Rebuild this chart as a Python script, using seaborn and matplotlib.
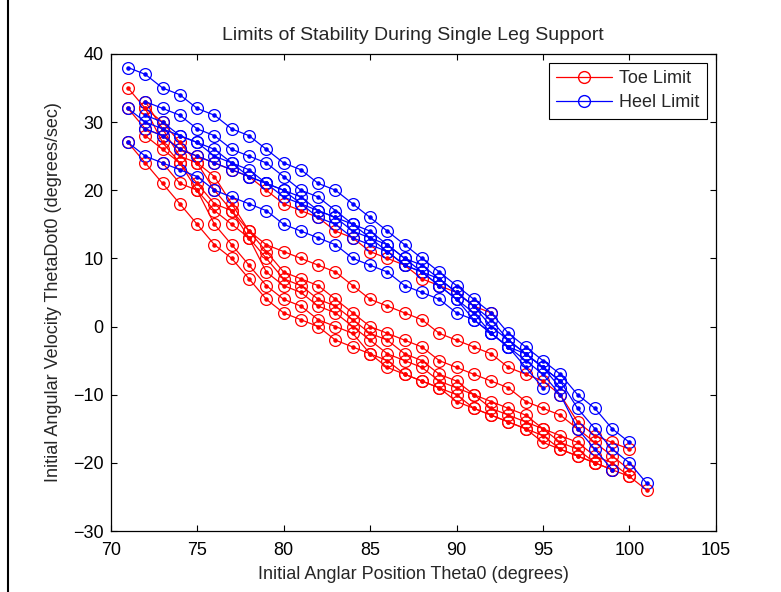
import matplotlib.pyplot as plt
import seaborn as sns
import numpy as np
import pandas as pd
from matplotlib.lines import Line2D

# Toe limit curves (red): first x and the y value at each whole degree
toe_start = [71, 72, 72, 72, 73, 71, 71]
toe_f0 = [35, 32, 30, 27, 24, 22, 18, 14, 12, 11, 10, 9, 8, 6, 4, 3, 2, 1, -1, -2,
          -3, -4, -6, -7, -8, -10, -14, -16, -17, -18]
toe_f1 = [33, 29, 25, 24, 20, 17, 14, 11, 8, 7, 6, 4, 2, 0, -1, -2, -3, -5, -6, -7,
          -8, -9, -11, -12, -13, -15, -17, -19, -21]
toe_f2 = [32, 27, 24, 21, 18, 17, 13, 10, 7, 6, 4, 3, 1, -1, -2, -4, -5, -7, -8, -10,
          -11, -12, -13, -15, -16, -17, -19, -20, -22]
toe_f3 = [28, 26, 24, 20, 17, 15, 13, 8, 6, 5, 3, 2, 0, -2, -4, -5, -6, -8, -9, -10,
          -12, -13, -14, -15, -17, -18, -20, -21]
toe_f4 = [24, 21, 20, 15, 12, 9, 6, 4, 3, 1, 0, -1, -4, -5, -7, -8, -9, -10, -12,
          -13, -14, -15, -16, -18, -19, -20, -21, -22, -24]
toe_f5 = [27, 24, 21, 18, 15, 12, 10, 7, 4, 2, 1, 0, -2, -3, -4, -6, -7, -8, -9, -11,
          -12, -13, -14, -15, -17, -18, -19, -20]
toe_r1 = [32, 29, 28, 26, 25, 24, 23, 22, 20, 18, 17, 16, 14, 13, 11, 10, 9, 7, 6, 5, 3, 2]
toe_lines = [toe_f0, toe_f1, toe_f2, toe_f3, toe_f4, toe_f5, toe_r1]

# Heel limit curves (blue)
heel_start = [71, 72, 71, 72, 71, 72]
heel_b1 = [38, 37, 35, 34, 32, 31, 29, 28, 26, 24, 23, 21, 20, 18, 16, 14, 12, 10, 8, 6,
           4, 2, -1, -3, -5, -7, -10, -12, -15, -17]
heel_b2 = [33, 32, 31, 29, 28, 26, 25, 24, 22, 20, 19, 17, 15, 14, 12, 10, 9, 7, 5, 3,
           1, -2, -4, -6, -8, -12, -15, -18, -20, -23]
heel_b3 = [32, 30, 29, 28, 27, 25, 24, 22, 21, 20, 18, 17, 16, 15, 13, 11, 9, 8, 6, 4,
           1, -1, -3, -5, -7, -10, -15, -18, -21]
heel_b4 = [31, 30, 28, 27, 26, 24, 23, 21, 20, 19, 17, 16, 14, 13, 12, 10, 8, 7, 5, 3,
           0, -2, -4, -6, -8]
heel_b5 = [27, 25, 24, 23, 22, 20, 19, 18, 17, 15, 14, 13, 12, 10, 9, 8, 6, 5, 4, 2,
           1, -1, -3, -4, -6, -9]
heel_b6 = [29, 28, 26, 25, 24, 23, 22, 21, 19, 18, 16, 15, 13, 12, 11, 9, 8, 6, 4, 2,
           -1, -3, -6, -9]
heel_lines = [heel_b1, heel_b2, heel_b3, heel_b4, heel_b5, heel_b6]

x_ticks = [70, 75, 80, 85, 90, 95, 100, 105]
y_ticks = [-30, -20, -10, 0, 10, 20, 30, 40]

rows = []
for i, (s, ys) in enumerate(zip(toe_start, toe_lines)):
    for k, y in enumerate(ys):
        rows.append(("Toe Limit", f"toe{i}", s + k, y))
for i, (s, ys) in enumerate(zip(heel_start, heel_lines)):
    for k, y in enumerate(ys):
        rows.append(("Heel Limit", f"heel{i}", s + k, y))
df = pd.DataFrame(rows, columns=["limit", "line", "theta", "thetadot"])

colors = {"Toe Limit": "#ff0000", "Heel Limit": "#0000ff"}

sns.set_style("ticks")
plt.rcParams["font.family"] = ["Liberation Sans", "DejaVu Sans"]

fig = plt.figure(figsize=(7.81, 5.92), dpi=100)
ax = fig.add_axes([0.1417, 0.103, 0.775, 0.806])

for name in ["Toe Limit", "Heel Limit"]:
    c = colors[name]
    sub = df[df["limit"] == name]
    for line_id, g in sub.groupby("line", sort=False):
        sns.lineplot(data=g, x="theta", y="thetadot", ax=ax, color=c, lw=0.9,
                     marker="o", markersize=8.5, markerfacecolor="none",
                     markeredgecolor=c, markeredgewidth=0.9,
                     estimator=None, sort=False, legend=False)
        ax.plot(g["theta"], g["thetadot"], ".", color=c, markersize=4.5, zorder=3)

ax.set_xlim(70, 105)
ax.set_ylim(-30, 40)
ax.set_xticks(x_ticks)
ax.set_yticks(y_ticks)
ax.tick_params(direction="in", length=4, width=0.8, top=True, right=True,
               labelsize=13, colors="black")
ax.tick_params(axis="x", pad=8)
ax.tick_params(axis="y", pad=5)
for sp in ax.spines.values():
    sp.set_visible(True)
    sp.set_color("black")
    sp.set_linewidth(0.9)

ax.set_title("Limits of Stability During Single Leg Support", fontsize=14, pad=10)
ax.set_xlabel("Initial Anglar Position Theta0 (degrees)", fontsize=13, labelpad=5)
ax.set_ylabel("Initial Angular Velocity ThetaDot0 (degrees/sec)", fontsize=13, labelpad=8)

handles = [Line2D([], [], color=colors[n], lw=0.9, marker="o", markersize=8.5,
                  markerfacecolor="none", markeredgecolor=colors[n]) for n in colors]
leg = ax.legend(handles, list(colors), loc="upper right", fontsize=13,
                fancybox=False, edgecolor="black", framealpha=1,
                handlelength=3.1, handletextpad=0.4, borderaxespad=0.5,
                labelspacing=0.4, borderpad=0.4)
leg.get_frame().set_linewidth(0.8)

# left edge of the window frame seen in the screenshot
fig.add_artist(Line2D([0.0105, 0.0105], [0, 1], transform=fig.transFigure,
                      color="black", lw=1.5))

fig.savefig("out.png", dpi=100)
